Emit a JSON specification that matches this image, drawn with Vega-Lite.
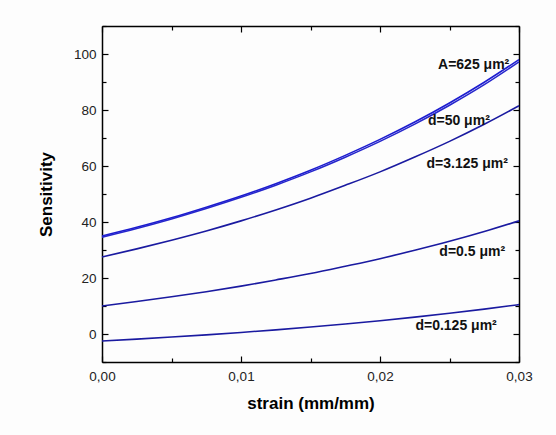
{
  "$schema": "https://vega.github.io/schema/vega-lite/v6.json",
  "width": 417,
  "height": 336,
  "autosize": "none",
  "padding": {"left": 102, "top": 26, "right": 37, "bottom": 73},
  "background": "#fdfdfd",
  "config": {"view": {"stroke": null}, "font": "Liberation Sans"},
  "datasets": {
    "curves": [
      {"series": "A=625", "strain": 0, "sens": 35.0},
      {"series": "A=625", "strain": 0.0025, "sens": 38.1},
      {"series": "A=625", "strain": 0.005, "sens": 41.5},
      {"series": "A=625", "strain": 0.0075, "sens": 45.3},
      {"series": "A=625", "strain": 0.01, "sens": 49.3},
      {"series": "A=625", "strain": 0.0125, "sens": 53.7},
      {"series": "A=625", "strain": 0.015, "sens": 58.5},
      {"series": "A=625", "strain": 0.0175, "sens": 63.8},
      {"series": "A=625", "strain": 0.02, "sens": 69.5},
      {"series": "A=625", "strain": 0.0225, "sens": 75.7},
      {"series": "A=625", "strain": 0.025, "sens": 82.5},
      {"series": "A=625", "strain": 0.0275, "sens": 89.9},
      {"series": "A=625", "strain": 0.03, "sens": 98.0},
      {"series": "d=50", "strain": 0, "sens": 34.6},
      {"series": "d=50", "strain": 0.0025, "sens": 37.7},
      {"series": "d=50", "strain": 0.005, "sens": 41.1},
      {"series": "d=50", "strain": 0.0075, "sens": 44.8},
      {"series": "d=50", "strain": 0.01, "sens": 48.8},
      {"series": "d=50", "strain": 0.0125, "sens": 53.15},
      {"series": "d=50", "strain": 0.015, "sens": 57.9},
      {"series": "d=50", "strain": 0.0175, "sens": 63.15},
      {"series": "d=50", "strain": 0.02, "sens": 68.8},
      {"series": "d=50", "strain": 0.0225, "sens": 74.95},
      {"series": "d=50", "strain": 0.025, "sens": 81.7},
      {"series": "d=50", "strain": 0.0275, "sens": 89.05},
      {"series": "d=50", "strain": 0.03, "sens": 97.2},
      {"series": "d=3.125", "strain": 0, "sens": 27.5},
      {"series": "d=3.125", "strain": 0.0025, "sens": 30.4},
      {"series": "d=3.125", "strain": 0.005, "sens": 33.5},
      {"series": "d=3.125", "strain": 0.0075, "sens": 36.8},
      {"series": "d=3.125", "strain": 0.01, "sens": 40.4},
      {"series": "d=3.125", "strain": 0.0125, "sens": 44.3},
      {"series": "d=3.125", "strain": 0.015, "sens": 48.5},
      {"series": "d=3.125", "strain": 0.0175, "sens": 53.1},
      {"series": "d=3.125", "strain": 0.02, "sens": 57.9},
      {"series": "d=3.125", "strain": 0.0225, "sens": 63.2},
      {"series": "d=3.125", "strain": 0.025, "sens": 68.8},
      {"series": "d=3.125", "strain": 0.0275, "sens": 74.9},
      {"series": "d=3.125", "strain": 0.03, "sens": 81.5},
      {"series": "d=0.5", "strain": 0, "sens": 10.0},
      {"series": "d=0.5", "strain": 0.0025, "sens": 11.6},
      {"series": "d=0.5", "strain": 0.005, "sens": 13.3},
      {"series": "d=0.5", "strain": 0.0075, "sens": 15.1},
      {"series": "d=0.5", "strain": 0.01, "sens": 17.1},
      {"series": "d=0.5", "strain": 0.0125, "sens": 19.3},
      {"series": "d=0.5", "strain": 0.015, "sens": 21.6},
      {"series": "d=0.5", "strain": 0.0175, "sens": 24.2},
      {"series": "d=0.5", "strain": 0.02, "sens": 26.9},
      {"series": "d=0.5", "strain": 0.0225, "sens": 29.9},
      {"series": "d=0.5", "strain": 0.025, "sens": 33.1},
      {"series": "d=0.5", "strain": 0.0275, "sens": 36.6},
      {"series": "d=0.5", "strain": 0.03, "sens": 40.4},
      {"series": "d=0.125", "strain": 0, "sens": -2.5},
      {"series": "d=0.125", "strain": 0.0025, "sens": -1.82},
      {"series": "d=0.125", "strain": 0.005, "sens": -1.09},
      {"series": "d=0.125", "strain": 0.0075, "sens": -0.3},
      {"series": "d=0.125", "strain": 0.01, "sens": 0.56},
      {"series": "d=0.125", "strain": 0.0125, "sens": 1.49},
      {"series": "d=0.125", "strain": 0.015, "sens": 2.5},
      {"series": "d=0.125", "strain": 0.0175, "sens": 3.58},
      {"series": "d=0.125", "strain": 0.02, "sens": 4.75},
      {"series": "d=0.125", "strain": 0.0225, "sens": 6.03},
      {"series": "d=0.125", "strain": 0.025, "sens": 7.41},
      {"series": "d=0.125", "strain": 0.0275, "sens": 8.89},
      {"series": "d=0.125", "strain": 0.03, "sens": 10.5}
    ],
    "labels": [
      {"label": "A=625 μm²", "lx": 0.0293, "ly": 96.2},
      {"label": "d=50 μm²", "lx": 0.0279, "ly": 75.9},
      {"label": "d=3.125 μm²", "lx": 0.0292, "ly": 60.6},
      {"label": "d=0.5 μm²", "lx": 0.0290, "ly": 29.2},
      {"label": "d=0.125 μm²", "lx": 0.0284, "ly": 2.9}
    ]
  },
  "layer": [
    {
      "data": {"name": "curves"},
      "mark": {"type": "line", "interpolate": "monotone", "strokeWidth": 1.6},
      "encoding": {
        "x": {
          "field": "strain", "type": "quantitative",
          "scale": {"domain": [0, 0.03], "nice": false, "zero": false},
          "axis": {
            "orient": "bottom",
            "title": "strain (mm/mm)",
            "titleFontSize": 17, "titleFontWeight": "bold", "titleColor": "#000", "titlePadding": 13,
            "values": [0, 0.005, 0.01, 0.015, 0.02, 0.025, 0.03],
            "labelExpr": "abs(datum.value*100 - round(datum.value*100)) < 0.000001 ? replace(format(datum.value, '.2f'), '.', ',') : ''",
            "labelFontSize": 13.5, "labelColor": "#222", "labelPadding": 13,
            "labelFlush": false,
            "tickSize": {"condition": {"test": "abs(datum.value*100 - round(datum.value*100)) < 0.000001", "value": -6}, "value": -4},
            "tickColor": "#000", "tickWidth": 1.2,
            "domainColor": "#000", "domainWidth": 1.5,
            "grid": false
          }
        },
        "y": {
          "field": "sens", "type": "quantitative",
          "scale": {"domain": [-10, 110], "nice": false, "zero": false},
          "axis": {
            "orient": "left",
            "title": "Sensitivity",
            "titleFontSize": 17, "titleFontWeight": "bold", "titleColor": "#000", "titlePadding": 18,
            "values": [-10, 0, 10, 20, 30, 40, 50, 60, 70, 80, 90, 100, 110],
            "labelExpr": "datum.value % 20 === 0 ? format(datum.value, 'd') : ''",
            "labelFontSize": 13.5, "labelColor": "#222", "labelPadding": 12,
            "labelFlush": false,
            "tickSize": {"condition": {"test": "datum.value % 20 === 0", "value": -6}, "value": -4},
            "tickColor": "#000", "tickWidth": 1.2,
            "domainColor": "#000", "domainWidth": 1.5,
            "grid": false
          }
        },
        "detail": {"field": "series"},
        "color": {
          "field": "series", "type": "nominal",
          "scale": {"domain": ["A=625", "d=50", "d=3.125", "d=0.5", "d=0.125"], "range": ["#1c1cd0", "#2626cc", "#1a1aa0", "#1a1aa0", "#1a1aa0"]},
          "legend": null
        }
      }
    },
    {
      "data": {"name": "labels"},
      "mark": {"type": "text", "align": "right", "baseline": "middle", "fontSize": 14, "fontWeight": "bold", "color": "#111"},
      "encoding": {
        "x": {
          "field": "lx", "type": "quantitative",
          "scale": {"domain": [0, 0.03], "nice": false, "zero": false},
          "axis": {
            "orient": "top", "title": null, "labels": false,
            "values": [0, 0.005, 0.01, 0.015, 0.02, 0.025, 0.03],
            "tickSize": {"condition": {"test": "abs(datum.value*100 - round(datum.value*100)) < 0.000001", "value": -6}, "value": -4},
            "tickColor": "#000", "tickWidth": 1.2,
            "domainColor": "#000", "domainWidth": 1.5, "grid": false
          }
        },
        "y": {
          "field": "ly", "type": "quantitative",
          "scale": {"domain": [-10, 110], "nice": false, "zero": false},
          "axis": {
            "orient": "right", "title": null, "labels": false,
            "values": [-10, 0, 10, 20, 30, 40, 50, 60, 70, 80, 90, 100, 110],
            "tickSize": {"condition": {"test": "datum.value % 20 === 0", "value": -6}, "value": -4},
            "tickColor": "#000", "tickWidth": 1.2,
            "domainColor": "#000", "domainWidth": 1.5, "grid": false
          }
        },
        "text": {"field": "label"}
      }
    }
  ],
  "resolve": {"axis": {"x": "independent", "y": "independent"}}
}
